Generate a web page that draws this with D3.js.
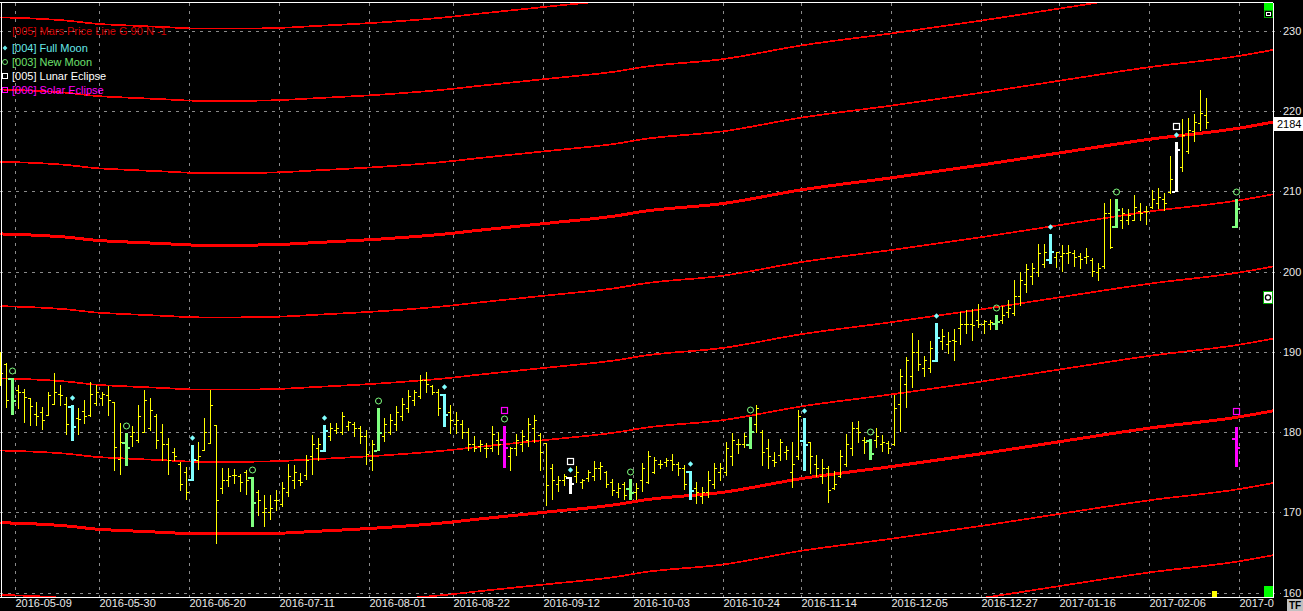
<!DOCTYPE html>
<html>
<head>
<meta charset="utf-8">
<script src="https://cdn.jsdelivr.net/npm/d3@7/dist/d3.min.js"></script>
<style>
body { margin: 0; background: #000; overflow: hidden; }
text { font-family: "Liberation Sans", Arial, sans-serif; font-size: 11px; }
</style>
</head>
<body>
<div id="chart"></div>
<script>
// daily bars, one per trading day (index 0 = 2016-05-04)
var opens = [
  189.0, 188.5, 186.7, 185.2, 185.0, 184.2, 182.3, 182.5, 182.1, 183.5,
  184.8, 183.5, 183.2, 181.7, 182.6, 182.1, 183.6, 184.3, 184.6, 183.8,
  176.7, 178.7, 179.5, 179.0, 180.0, 180.5, 182.0, 180.0, 178.5, 177.5,
  176.0, 175.0, 174.2, 176.5, 177.8, 178.6, 180.9, 173.0, 174.0, 174.7,
  174.5, 175.0, 174.4, 172.5, 170.0, 170.0, 171.5, 171.0, 172.5, 174.0,
  174.0, 174.6, 177.0, 178.0, 177.8, 179.5, 180.3, 180.0, 180.8, 181.0,
  180.5, 179.5, 176.5, 177.8, 179.5, 180.0, 181.0, 182.0, 183.0, 184.0,
  184.5, 186.5, 185.7, 185.0, 184.7, 182.5, 181.0, 181.0, 180.0, 178.5,
  178.3, 178.0, 178.0, 179.0, 179.1, 177.0, 178.0, 178.5, 179.0, 180.5,
  179.6, 178.6, 175.5, 173.5, 174.0, 174.4, 174.5, 173.8, 174.3, 174.5,
  175.5, 175.0, 173.8, 172.5, 173.5, 173.0, 172.5, 174.0, 173.8, 175.0,
  176.0, 176.3, 176.5, 176.0, 175.5, 175.1, 173.0, 172.0, 172.5, 173.5,
  175.0, 175.0, 177.0, 178.5, 178.5, 178.5, 181.0, 180.0, 178.0, 176.5,
  177.2, 177.5, 175.0, 177.0, 179.0, 178.7, 176.0, 174.5, 175.5, 173.0,
  174.5, 176.0, 178.0, 180.5, 179.0, 179.0, 179.0, 178.5, 178.6, 178.5,
  183.5, 186.0, 187.0, 190.0, 188.0, 188.0, 189.0, 191.3, 191.0, 191.5,
  193.0, 193.5, 193.5, 194.0, 193.5, 193.5, 193.6, 194.0, 195.0, 194.8,
  197.0, 198.5, 199.5, 200.0, 201.0, 201.6, 201.8, 202.0, 202.3, 202.3,
  202.0, 201.8, 201.5, 200.0, 200.7, 207.3, 205.7, 206.5, 206.5, 206.5,
  207.5, 207.5, 208.0, 208.5, 209.0, 209.9, 210.1, 213.0, 215.0, 217.5,
  218.5, 219.5];
var highs = [
  190.0, 188.6, 186.7, 185.9, 185.4, 184.2, 183.8, 183.1, 185.0, 187.4,
  185.9, 184.4, 183.4, 183.0, 184.0, 186.3, 185.9, 185.0, 185.7, 183.8,
  181.1, 179.9, 180.7, 183.4, 185.3, 184.2, 182.3, 181.0, 179.2, 178.0,
  176.3, 175.7, 178.4, 178.8, 181.8, 185.2, 180.9, 175.5, 175.5, 175.4,
  174.8, 175.3, 174.4, 172.8, 172.1, 172.1, 172.8, 173.8, 176.0, 175.9,
  174.9, 177.2, 179.6, 179.3, 180.9, 181.1, 181.1, 182.5, 181.4, 181.3,
  180.7, 180.2, 179.0, 183.0, 181.7, 182.3, 183.2, 184.3, 185.3, 185.3,
  187.1, 187.5, 185.9, 185.4, 184.7, 183.4, 182.5, 181.5, 180.5, 179.5,
  179.0, 178.6, 180.7, 180.0, 180.7, 178.2, 179.8, 180.3, 181.7, 182.1,
  179.9, 178.6, 176.0, 174.5, 174.8, 174.4, 175.8, 174.2, 175.3, 176.4,
  176.3, 175.1, 174.1, 173.7, 173.8, 174.2, 173.6, 176.1, 177.6, 176.9,
  176.5, 176.8, 177.3, 176.3, 175.9, 175.1, 173.8, 173.1, 175.1, 176.1,
  176.2, 178.8, 179.9, 179.1, 179.9, 181.9, 183.4, 180.3, 179.1, 177.5,
  179.1, 178.3, 178.8, 182.8, 181.7, 178.7, 177.1, 176.7, 175.8, 175.1,
  177.8, 179.8, 181.2, 181.4, 179.4, 179.1, 180.5, 179.6, 178.9, 184.6,
  187.9, 189.4, 192.4, 191.5, 189.5, 191.3, 193.6, 192.9, 192.5, 192.9,
  195.0, 195.2, 195.4, 196.0, 194.0, 194.0, 194.6, 195.7, 196.5, 199.0,
  200.0, 200.9, 201.1, 203.5, 203.5, 204.7, 202.5, 203.3, 203.3, 202.7,
  202.3, 203.0, 201.7, 201.1, 208.5, 209.1, 209.0, 207.9, 207.8, 209.6,
  208.6, 208.2, 210.2, 210.4, 209.8, 214.4, 216.2, 219.0, 219.1, 219.6,
  222.6, 221.7];
var lows = [
  185.9, 183.1, 182.2, 183.0, 181.3, 180.9, 180.9, 180.4, 182.1, 183.5,
  183.4, 179.8, 179.0, 179.8, 181.1, 182.0, 183.4, 183.4, 182.1, 175.3,
  174.8, 175.9, 178.3, 178.8, 180.0, 180.3, 178.0, 176.5, 174.8, 176.5,
  172.8, 171.7, 174.0, 175.4, 177.8, 178.6, 166.2, 172.4, 173.3, 173.6,
  172.7, 172.3, 168.3, 169.7, 168.3, 169.2, 170.3, 170.8, 172.0, 173.0,
  173.4, 174.2, 174.8, 176.5, 177.6, 179.0, 179.9, 179.8, 180.3, 179.5,
  178.6, 176.0, 175.3, 177.8, 178.9, 179.8, 180.3, 181.5, 182.5, 183.4,
  184.2, 185.0, 184.7, 182.1, 180.7, 179.9, 179.9, 179.2, 177.8, 177.6,
  177.6, 176.9, 177.6, 177.3, 175.7, 175.3, 177.1, 177.6, 178.3, 178.8,
  175.3, 170.9, 171.7, 172.6, 173.4, 172.4, 173.8, 173.0, 173.9, 174.0,
  174.2, 173.1, 172.1, 171.9, 171.7, 171.7, 171.7, 172.6, 173.7, 174.9,
  175.5, 175.8, 175.3, 174.6, 172.9, 171.6, 171.1, 171.1, 171.9, 173.0,
  174.0, 174.6, 175.9, 177.4, 178.2, 178.0, 180.0, 175.9, 175.5, 175.8,
  176.5, 176.6, 173.2, 176.7, 175.3, 174.9, 174.5, 173.6, 171.3, 172.9,
  174.4, 175.8, 177.1, 178.7, 177.4, 176.7, 178.2, 177.7, 177.4, 178.4,
  180.1, 183.1, 185.6, 187.7, 187.0, 187.5, 188.9, 190.4, 189.8, 189.0,
  191.0, 192.3, 191.5, 193.1, 192.3, 192.9, 192.9, 193.6, 194.4, 194.6,
  195.8, 197.5, 198.5, 199.4, 200.6, 201.1, 200.6, 200.1, 201.1, 200.7,
  200.5, 201.1, 199.4, 198.9, 200.4, 202.9, 205.6, 205.4, 206.0, 206.4,
  206.5, 206.0, 207.9, 207.9, 207.7, 209.8, 210.0, 212.6, 214.8, 216.3,
  217.6, 217.9];
var closes = [
  187.4, 184.0, 184.0, 185.0, 184.4, 183.2, 182.0, 181.5, 184.6, 185.0,
  184.6, 181.0, 180.7, 181.6, 182.0, 184.8, 185.0, 184.8, 184.0, 178.1,
  178.8, 178.1, 180.0, 182.0, 184.0, 182.7, 179.0, 178.5, 176.5, 177.0,
  173.5, 172.5, 176.7, 177.0, 180.0, 183.4, 171.5, 174.0, 174.5, 174.7,
  173.8, 174.0, 171.3, 171.5, 170.5, 170.5, 171.5, 173.0, 174.5, 175.0,
  173.8, 176.5, 178.5, 178.5, 180.3, 180.5, 180.5, 182.0, 181.2, 180.5,
  179.5, 177.3, 178.5, 180.0, 181.0, 181.5, 182.5, 183.5, 184.5, 185.0,
  186.5, 186.0, 185.0, 183.0, 182.2, 181.5, 181.5, 180.0, 178.5, 178.0,
  178.5, 178.0, 179.8, 178.5, 178.2, 178.0, 179.0, 179.5, 181.0, 181.5,
  177.5, 173.4, 174.0, 174.0, 174.5, 173.6, 175.0, 174.0, 175.0, 175.5,
  175.8, 173.5, 172.8, 173.0, 172.2, 172.5, 173.0, 175.5, 177.0, 176.5,
  176.0, 176.5, 176.0, 175.5, 173.5, 172.8, 172.5, 172.5, 174.0, 175.5,
  175.5, 178.0, 179.0, 178.5, 179.5, 180.1, 183.0, 177.5, 177.0, 176.3,
  178.7, 177.8, 176.0, 182.0, 178.5, 177.0, 175.5, 175.5, 172.8, 173.5,
  177.0, 178.5, 180.5, 180.0, 178.7, 177.4, 179.5, 178.7, 178.0, 183.0,
  187.0, 189.0, 190.0, 188.5, 189.0, 190.5, 191.8, 192.0, 191.3, 191.3,
  193.5, 193.5, 193.3, 193.5, 193.8, 193.7, 193.8, 194.6, 195.5, 197.0,
  199.0, 200.3, 200.5, 202.3, 202.5, 202.6, 202.4, 202.3, 202.4, 201.8,
  201.6, 202.0, 200.1, 200.4, 207.3, 203.1, 207.8, 207.3, 207.0, 208.0,
  207.3, 207.5, 209.0, 209.3, 208.5, 211.5, 215.3, 217.0, 217.7, 218.7,
  219.8, 218.6];

// bar indices of lunar events
var newMoon = [2, 21, 42, 63, 84, 105, 125, 145, 166, 186];
var fullMoon = [12, 32, 54, 74, 95, 115, 134, 156, 175, 196];
var lunarEclipse = [95, 196];
var solarEclipse = [84];

// projected event bars after the last bar: [index, open, high, low, close, type]
var projected = [
  [206, 205.7, 209.0, 205.6, 207.9, "new"],
  [206, 179.2, 180.6, 175.8, 178.2, "solar"]
];

// Mars price line: base level and harmonic offsets
var marsIdx = [0, 7, 11, 16, 21, 27, 33, 40, 47, 52, 64, 75.5, 79, 92, 103, 107,
  120.5, 133.5, 148.5, 163.5, 176.5, 191.5, 206.5, 212.5];
var marsBase = [204.7, 204.5, 204.3, 203.9, 203.7, 203.5, 203.3, 203.3, 203.4, 203.6,
  204.1, 204.8, 205.1, 206.1, 207.0, 207.5, 208.5, 210.2, 211.7, 213.3, 214.8,
  216.5, 217.9, 218.7];
var marsOffsets = [-54, -45, -36, -27, -18, -9, 0, 9, 18, 27];

// x axis ticks (bar index of the labelled day)
var dateTicks = [3, 17, 32, 47, 62, 76, 91, 106, 121, 134, 149, 164, 177, 192, 207];
var dateLabels = ["2016-05-09", "2016-05-30", "2016-06-20", "2016-07-11", "2016-08-01",
  "2016-08-22", "2016-09-12", "2016-10-03", "2016-10-24", "2016-11-14", "2016-12-05",
  "2016-12-27", "2017-01-16", "2017-02-06", "2017-0"];
var priceTicks = [160, 170, 180, 190, 200, 210, 220, 230];

var legendItems = [
  {label: "[004] Full Moon", color: "#66e8e8", mark: "dot"},
  {label: "[003] New Moon", color: "#6ee06e", mark: "circle"},
  {label: "[005] Lunar Eclipse", color: "#ffffff", mark: "square"},
  {label: "[006] Solar Eclipse", color: "#ff00ff", mark: "square"}
];

var width = 1303, height = 611;
var plotRight = 1273, plotTop = 3, plotBottom = 597;

var colors = {bar: "#ffff00", full: "#80ffff", new: "#80ff80", lunar: "#ffffff",
  solar: "#ff00ff", grid: "#8a8a8a", mars: "#ff0000", text: "#e8e8e8"};

var x = d3.scaleLinear().domain([0, 212]).range([0.5, 1272.5]);
var y = d3.scaleLinear().domain([160, 230]).range([592.5, 31]);

var svg = d3.select("#chart").append("svg")
    .attr("width", width)
    .attr("height", height)
    .style("display", "block")
    .style("background", "#000");

svg.append("clipPath").attr("id", "plotClip")
  .append("rect")
    .attr("x", 0).attr("y", plotTop)
    .attr("width", plotRight).attr("height", plotBottom - plotTop);

// grid
var grid = svg.append("g").attr("shape-rendering", "crispEdges");
grid.selectAll(".hgrid")
  .data(priceTicks)
  .enter().append("line")
    .attr("class", "hgrid")
    .attr("x1", 0).attr("x2", 1281)
    .attr("y1", function(d){ return Math.round(y(d)) + 0.5; })
    .attr("y2", function(d){ return Math.round(y(d)) + 0.5; })
    .attr("stroke", colors.grid)
    .attr("stroke-dasharray", "3,5");
grid.selectAll(".vgrid")
  .data(dateTicks)
  .enter().append("line")
    .attr("class", "vgrid")
    .attr("x1", function(d){ return x(d - 0.5); })
    .attr("x2", function(d){ return x(d - 0.5); })
    .attr("y1", plotTop).attr("y2", 600)
    .attr("stroke", colors.grid)
    .attr("stroke-dasharray", "3,5");

// Mars price lines
var marsPts = marsIdx.map(function(d, i){ return [d, marsBase[i]]; });
var marsG = svg.append("g").attr("clip-path", "url(#plotClip)");
marsOffsets.forEach(function(off){
  var line = d3.line()
    .x(function(d){ return x(d[0]); })
    .y(function(d){ return y(d[1] + off); })
    .curve(d3.curveMonotoneX);
  marsG.append("path")
    .attr("d", line(marsPts))
    .attr("fill", "none")
    .attr("stroke", colors.mars)
    .attr("stroke-width", off % 36 === 0 ? 3 : 1.7)
    .attr("shape-rendering", "crispEdges");
});

// bars
var bars = opens.map(function(o, i){
  var type = "bar";
  if (newMoon.indexOf(i) >= 0) type = "new";
  if (fullMoon.indexOf(i) >= 0) type = "full";
  if (lunarEclipse.indexOf(i) >= 0) type = "lunar";
  if (solarEclipse.indexOf(i) >= 0) type = "solar";
  return {i: i, o: o, h: highs[i], l: lows[i], c: closes[i], type: type};
});
projected.forEach(function(p){
  bars.push({i: p[0], o: p[1], h: p[2], l: p[3], c: p[4], type: p[5], proj: true});
});

var barG = svg.append("g").attr("shape-rendering", "crispEdges");
var ohlc = barG.selectAll(".ohlc")
  .data(bars)
  .enter().append("g")
    .attr("class", "ohlc")
    .attr("fill", function(d){ return colors[d.type]; });

ohlc.append("rect")
    .attr("x", function(d){ return Math.round(x(d.i) - 0.5) - (d.type === "bar" ? 0 : 1); })
    .attr("y", function(d){ return Math.round(y(d.h)); })
    .attr("width", function(d){ return d.type === "bar" ? 1 : 3; })
    .attr("height", function(d){ return Math.round(y(d.l)) - Math.round(y(d.h)) + 1; });
ohlc.append("rect")
    .attr("x", function(d){ return Math.round(x(d.i) - 0.5) - (d.type === "bar" ? 2 : 4); })
    .attr("y", function(d){ return Math.round(y(d.o)); })
    .attr("width", 3)
    .attr("height", function(d){ return d.type === "bar" ? 1 : 2; });
ohlc.append("rect")
    .attr("x", function(d){ return Math.round(x(d.i) - 0.5) + (d.type === "bar" ? 0 : 1); })
    .attr("y", function(d){ return Math.round(y(d.c)); })
    .attr("width", 3)
    .attr("height", function(d){ return d.type === "bar" ? 1 : 2; });

// event markers above the bars
var markG = svg.append("g");
bars.forEach(function(d){
  var cx = Math.round(x(d.i) - 0.5) + 0.5;
  var top = Math.round(y(d.h));
  if (d.type === "full" || d.type === "lunar") {
    markG.append("path")
      .attr("d", d3.symbol().type(d3.symbolSquare).size(14)())
      .attr("transform", "translate(" + cx + "," + (top - 7) + ") rotate(45)")
      .attr("fill", colors.full);
  }
  if (d.type === "new" || (d.type === "solar" && !d.proj)) {
    markG.append("circle")
      .attr("cx", cx).attr("cy", top - 7).attr("r", 3)
      .attr("fill", "none").attr("stroke", colors.new);
  }
  if (d.type === "lunar" || d.type === "solar") {
    markG.append("rect")
      .attr("x", cx - 3).attr("y", top - 18.5)
      .attr("width", 6).attr("height", 6)
      .attr("fill", "none")
      .attr("stroke", d.type === "lunar" ? colors.lunar : colors.solar)
      .attr("stroke-width", 1.2);
  }
});

// frame
var frame = svg.append("g").attr("shape-rendering", "crispEdges")
    .attr("stroke", "#ffffff").attr("fill", "none");
frame.append("line").attr("x1", 1.5).attr("x2", 1.5).attr("y1", plotTop).attr("y2", plotBottom);
frame.append("line").attr("x1", 0).attr("x2", plotRight).attr("y1", 2.5).attr("y2", 2.5);
frame.append("line").attr("x1", 0).attr("x2", plotRight + 1).attr("y1", plotBottom + 0.5).attr("y2", plotBottom + 0.5);
frame.append("line").attr("x1", plotRight + 0.5).attr("x2", plotRight + 0.5).attr("y1", plotTop).attr("y2", plotBottom);

// right side widgets
svg.append("rect").attr("x", 1264).attr("y", 3).attr("width", 9).attr("height", 11).attr("fill", "#00ff00");
svg.append("rect").attr("x", 1264).attr("y", 586).attr("width", 9).attr("height", 11).attr("fill", "#00ff00");
svg.append("rect").attr("x", 1264.5).attr("y", 10.5).attr("width", 8).attr("height", 7)
  .attr("fill", "#000").attr("stroke", "#00aa00");
svg.append("rect").attr("x", 1266.5).attr("y", 12.5).attr("width", 4).attr("height", 3)
  .attr("fill", "none").attr("stroke", "#ffffff");
svg.append("rect").attr("x", 1263.5).attr("y", 291.5).attr("width", 9).attr("height", 12)
  .attr("fill", "#ffffff").attr("stroke", "#00aa00");
svg.append("circle").attr("cx", 1268).attr("cy", 297.5).attr("r", 2.6)
  .attr("fill", "none").attr("stroke", "#000").attr("stroke-width", 1.3);
svg.append("rect").attr("x", 1212).attr("y", 591).attr("width", 5).attr("height", 6).attr("fill", "#ffff00");

// y axis labels
svg.selectAll(".ylab")
  .data(priceTicks)
  .enter().append("text")
    .attr("class", "ylab")
    .attr("x", 1283)
    .attr("y", function(d){ return y(d) + 4; })
    .attr("fill", colors.text)
    .text(function(d){ return d; });

// current Mars line value tag
svg.append("rect").attr("x", 1274).attr("y", 117).attr("width", 29).attr("height", 14).attr("fill", "#ffffff");
svg.append("text").attr("x", 1277).attr("y", 128).attr("fill", "#000").text("2184");

// x axis labels
svg.selectAll(".xlab")
  .data(dateTicks)
  .enter().append("text")
    .attr("class", "xlab")
    .attr("x", function(d){ return x(d - 0.5); })
    .attr("y", 607)
    .attr("fill", colors.text)
    .text(function(d, i){ return dateLabels[i]; });

// TF button
svg.append("rect").attr("x", 1287).attr("y", 599).attr("width", 16).attr("height", 12).attr("fill", "#c0c0c0");
svg.append("text").attr("x", 1289).attr("y", 609).attr("fill", "#000")
    .style("font-size", "10px").style("font-weight", "bold").text("TF");

// legend
svg.append("text").attr("x", 12).attr("y", 35)
    .attr("fill", "#d40000").text("[005] Mars Price Line G 90 N -1");
var legend = svg.selectAll(".legend")
  .data(legendItems)
  .enter().append("g")
    .attr("class", "legend")
    .attr("transform", function(d, i){ return "translate(0," + (48 + i * 14) + ")"; });
legend.append("text")
    .attr("x", 12).attr("y", 4)
    .attr("fill", function(d){ return d.color; })
    .text(function(d){ return d.label; });
legend.each(function(d){
  var g = d3.select(this);
  if (d.mark === "dot") {
    g.append("path").attr("d", d3.symbol().type(d3.symbolSquare).size(12)())
      .attr("transform", "translate(5,0) rotate(45)").attr("fill", d.color);
  } else if (d.mark === "circle") {
    g.append("circle").attr("cx", 5).attr("cy", 0).attr("r", 2.5)
      .attr("fill", "none").attr("stroke", d.color);
  } else {
    g.append("rect").attr("x", 2.5).attr("y", -2.5).attr("width", 5).attr("height", 5)
      .attr("fill", "none").attr("stroke", d.color);
  }
});
</script>
</body>
</html>
